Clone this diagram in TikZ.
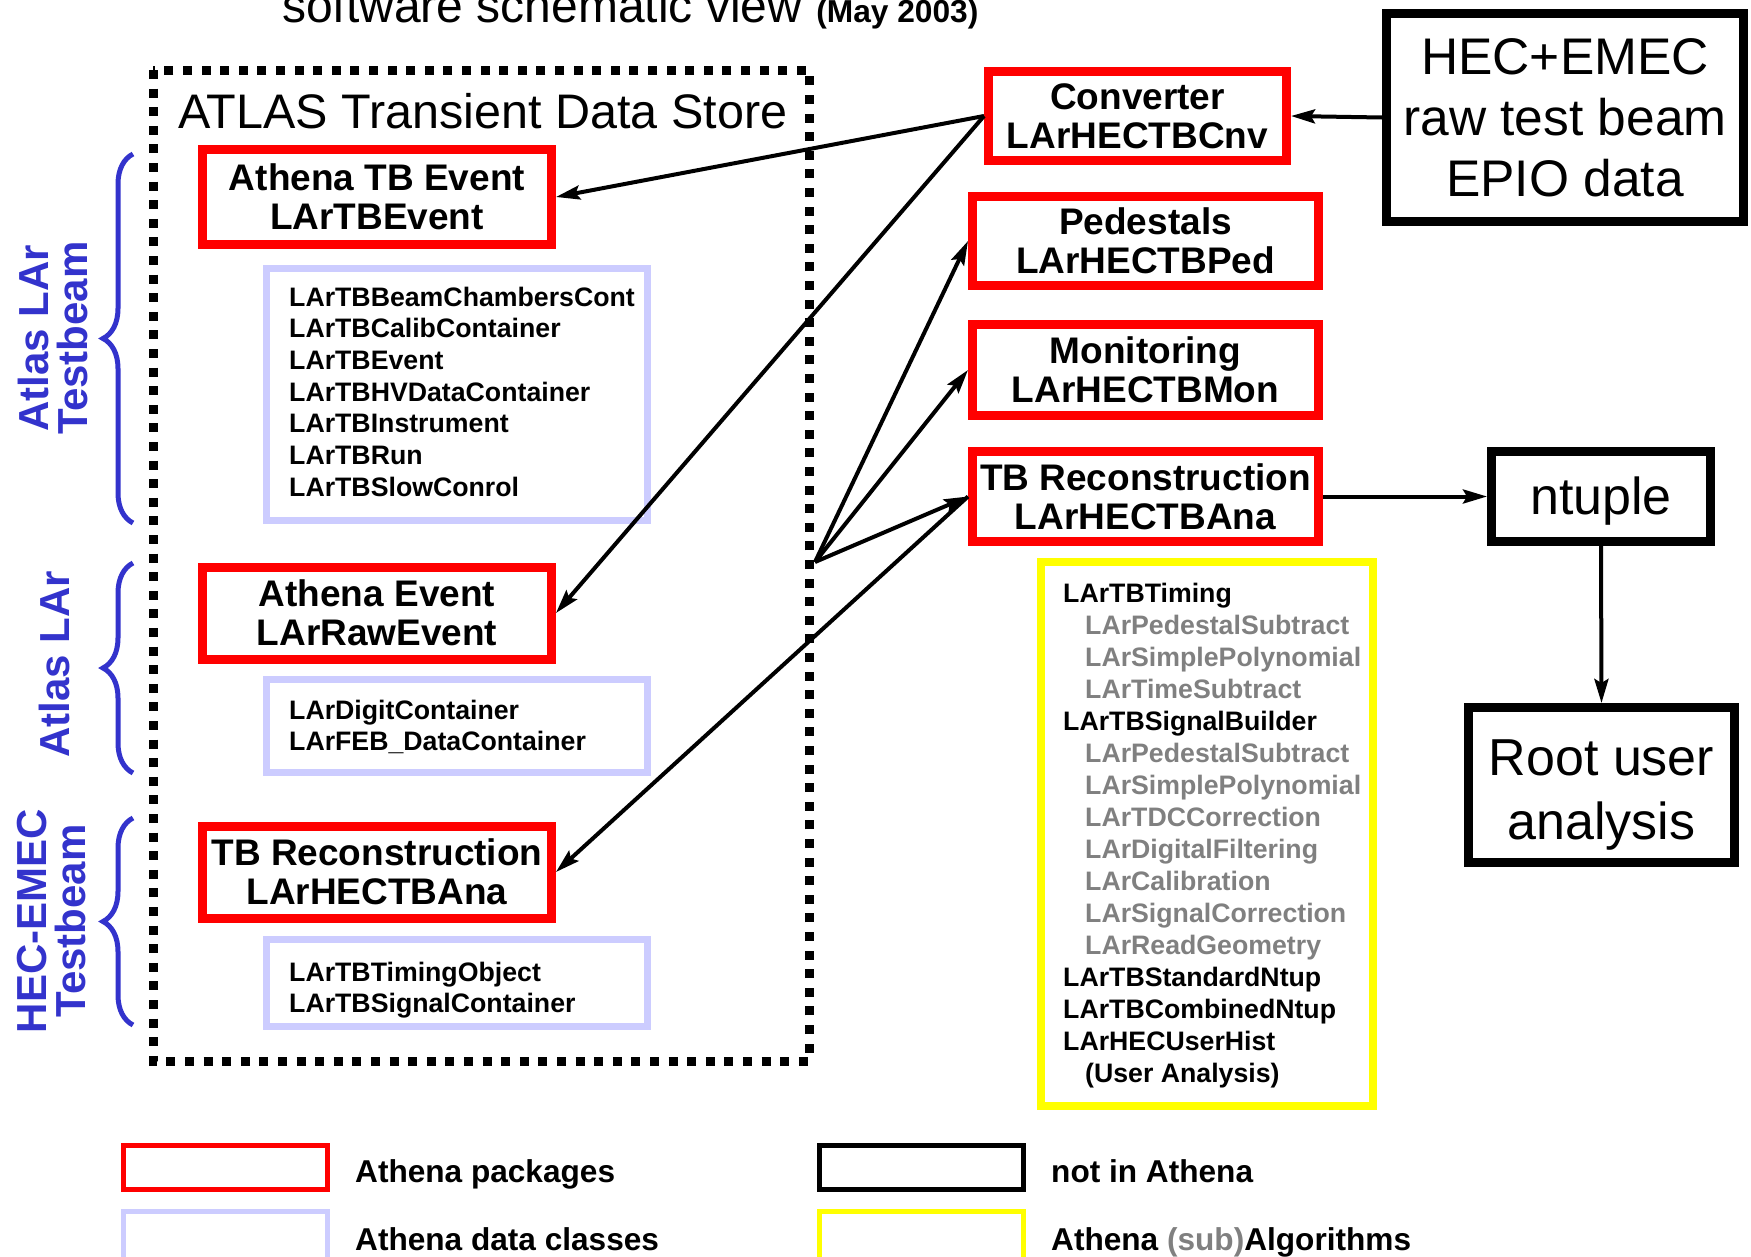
\documentclass[tikz,border=0pt]{standalone}
\usepackage{fontspec}
\setmainfont{Liberation Sans}
\usetikzlibrary{arrows.meta,decorations.pathreplacing}
\definecolor{lav}{RGB}{204,204,255}
\definecolor{ylw}{RGB}{255,255,0}
\definecolor{bbl}{RGB}{51,51,204}
\definecolor{gry}{RGB}{128,128,128}
\begin{document}
\begin{tikzpicture}[x=1pt,y=-1pt,
  redbox/.style={draw=red, line width=9pt, inner sep=0pt, align=center,
    font={\bfseries\fontsize{37}{39}\selectfont}},
  lavbox/.style={draw=lav, line width=7pt, inner sep=0pt},
  blkbox/.style={draw=black, line width=9pt, inner sep=0pt, align=center,
    font={\fontsize{52}{61}\selectfont}},
  ylwbox/.style={draw=ylw, line width=8pt, inner sep=0pt},
  listtxt/.style={inner sep=0pt, anchor=base west, font={\bfseries\fontsize{26.7}{32}\selectfont}},
  bracelab/.style={inner sep=0pt, align=center, rotate=90, text=bbl,
    font={\bfseries\fontsize{42}{39}\selectfont}},
  bracedraw/.style={draw=bbl, line width=5pt, decorate, decoration={brace, amplitude=30pt}},
  arr/.style={line width=4pt, -{Stealth[length=24pt, width=14pt, inset=4pt]}},
  legbox/.style={line width=5pt, inner sep=0pt, minimum width=204pt, minimum height=44pt},
  legtxt/.style={inner sep=0pt, anchor=base west, font={\bfseries\fontsize{31.6}{34}\selectfont}}
]
\useasboundingbox (0,0) rectangle (1751,1256);
\clip (0,0) rectangle (1751,1256);

% title
\node[inner sep=0pt, anchor=base west] (title) at (282,22)
  {\fontsize{48}{50}\selectfont software schematic view\hspace{14pt}{\bfseries\fontsize{31.7}{34}\selectfont (May 2003)}};

% transient data store frame
\draw[line width=9pt, dash pattern=on 9pt off 9.6pt] (153,70) rectangle (809,1061);
\node[inner sep=0pt, anchor=base west, font={\fontsize{48.5}{50}\selectfont}] (store) at (178,128) {ATLAS Transient Data Store};

% left red boxes
\node[redbox, minimum width=349pt, minimum height=95pt] (tbev) at (377,197) {Athena TB Event\\LArTBEvent};
\node[redbox, minimum width=349pt, minimum height=92pt] (rawev) at (377,613) {Athena Event\\LArRawEvent};
\node[redbox, minimum width=349pt, minimum height=92pt] (tbl) at (377,872) {TB Reconstruction\\LArHECTBAna};

% lavender boxes
\node[lavbox, minimum width=381pt, minimum height=252pt] (lav1) at (457,394) {};
\node[lavbox, minimum width=381pt, minimum height=93pt] (lav2) at (457,726) {};
\node[lavbox, minimum width=381pt, minimum height=87pt] (lav3) at (457,983) {};

\foreach \t [count=\i] in {LArTBBeamChambersCont,LArTBCalibContainer,LArTBEvent,LArTBHVDataContainer,LArTBInstrument,LArTBRun,LArTBSlowConrol}
  \node[listtxt] (la\i) at (289,{306+31.7*(\i-1)}) {\t};
\foreach \t [count=\i] in {LArDigitContainer,LArFEB\_DataContainer}
  \node[listtxt] (lb\i) at (289,{719+31.5*(\i-1)}) {\t};
\foreach \t [count=\i] in {LArTBTimingObject,LArTBSignalContainer}
  \node[listtxt] (lc\i) at (289,{981+31.5*(\i-1)}) {\t};

% braces and labels
\draw[bracedraw] (133,523) -- (133,154);
\draw[bracedraw] (133,773) -- (133,563);
\draw[bracedraw] (133,1025) -- (133,818);
\node[bracelab] (lab1) at (53,338) {Atlas LAr\\Testbeam};
\node[bracelab] (lab2) at (54,664) {Atlas LAr};
\node[bracelab] (lab3) at (52,921) {HEC-EMEC\\Testbeam};

% right column
\node[redbox, minimum width=298pt, minimum height=89pt] (conv) at (1137.5,116) {Converter\\LArHECTBCnv};
\node[redbox, minimum width=346pt, minimum height=89pt] (ped) at (1145.5,241) {Pedestals\\LArHECTBPed};
\node[redbox, minimum width=346pt, minimum height=91pt] (mon) at (1145.5,370) {Monitoring\\LArHECTBMon};
\node[redbox, minimum width=346pt, minimum height=90pt] (tbr) at (1145.5,496.5) {TB Reconstruction\\LArHECTBAna};

\node[blkbox, minimum width=357pt, minimum height=208pt, font={\fontsize{51.5}{61}\selectfont}] (hec) at (1565,117.5) {HEC+EMEC\\raw test beam\\EPIO data};
\node[blkbox, minimum width=219pt, minimum height=90pt] (ntup) at (1601,496.5) {\rule{0pt}{47pt}ntuple};
\node[blkbox, minimum width=266pt, minimum height=155pt, font={\fontsize{52}{64}\selectfont}] (root) at (1601.5,785) {\rule{0pt}{56pt}Root user\\analysis};

% yellow algorithm box
\node[ylwbox, minimum width=332pt, minimum height=544pt] (alg) at (1207,834) {};
\foreach \ind/\col/\t [count=\i] in {
  0/black/LArTBTiming,
  22/gry/LArPedestalSubtract,
  22/gry/LArSimplePolynomial,
  22/gry/LArTimeSubtract,
  0/black/LArTBSignalBuilder,
  22/gry/LArPedestalSubtract,
  22/gry/LArSimplePolynomial,
  22/gry/LArTDCCorrection,
  22/gry/LArDigitalFiltering,
  22/gry/LArCalibration,
  22/gry/LArSignalCorrection,
  22/gry/LArReadGeometry,
  0/black/LArTBStandardNtup,
  0/black/LArTBCombinedNtup,
  0/black/LArHECUserHist,
  22/black/(User Analysis)}
  \node[listtxt, text=\col] (y\i) at ({1063+\ind},{602+32*(\i-1)}) {\t};

% connectors
\coordinate (hub) at (815,562);
\draw[arr] (conv.west) -- (tbev.east);
\draw[arr] (conv.west) -- (rawev.east);
\draw[arr] (hub) -- (ped.west);
\draw[arr] (hub) -- (mon.west);
\draw[arr] (hub) -- (tbr.west);
\draw[arr] (tbr.west) -- (tbl.east);
\draw[arr] (hec.west) -- (conv.east);
\draw[arr] (tbr.east) -- (ntup.west);
\draw[arr] (ntup.south) -- (root.north);

% legend
\node[legbox, draw=red] (lgred) at (225,1167.5) {};
\node[legbox, draw=lav, minimum height=60pt] (lglav) at (225,1241.6) {};
\node[legbox, draw=black] (lgblk) at (921,1167.5) {};
\node[legbox, draw=ylw, minimum height=60pt] (lgylw) at (921,1241.6) {};
\node[legtxt] (lt1) at (355,1182) {Athena packages};
\node[legtxt] (lt2) at (355,1250) {Athena data classes};
\node[legtxt] (lt3) at (1051,1182) {not in Athena};
\node[legtxt] (lt4) at (1051,1250) {Athena \textcolor{gry}{(sub)}Algorithms};
\end{tikzpicture}
\end{document}
